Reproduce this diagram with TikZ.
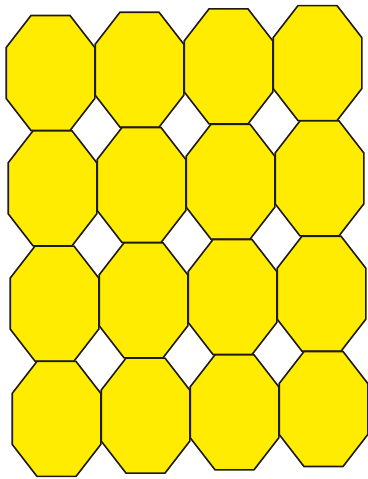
\documentclass[tikz,border=0pt]{standalone}
\definecolor{octfill}{RGB}{255,236,0}
\definecolor{octline}{RGB}{30,26,20}
\tikzset{oct/.style={fill=octfill,draw=octline,line width=1.6pt,line join=miter}}
\begin{document}
\begin{tikzpicture}[x=1pt,y=-1pt]
\useasboundingbox (0,0) rectangle (367,479);
\foreach \i in {0,...,3} {
 \foreach \j in {0,...,3} {
  \pgfmathsetmacro\cx{50.5+89*\i+2*\j}
  \pgfmathsetmacro\cy{73-3.3*\i+115.3*\j}
  \draw[oct] (\cx-19.5,\cy-57.5) -- (\cx+19.5,\cy-57.5) -- (\cx+44.3,\cy-25.5)
    -- (\cx+44.3,\cy+25.5) -- (\cx+19.5,\cy+57.5) -- (\cx-19.5,\cy+57.5)
    -- (\cx-44.3,\cy+25.5) -- (\cx-44.3,\cy-25.5) -- cycle;
 }
}
\end{tikzpicture}
\end{document}
